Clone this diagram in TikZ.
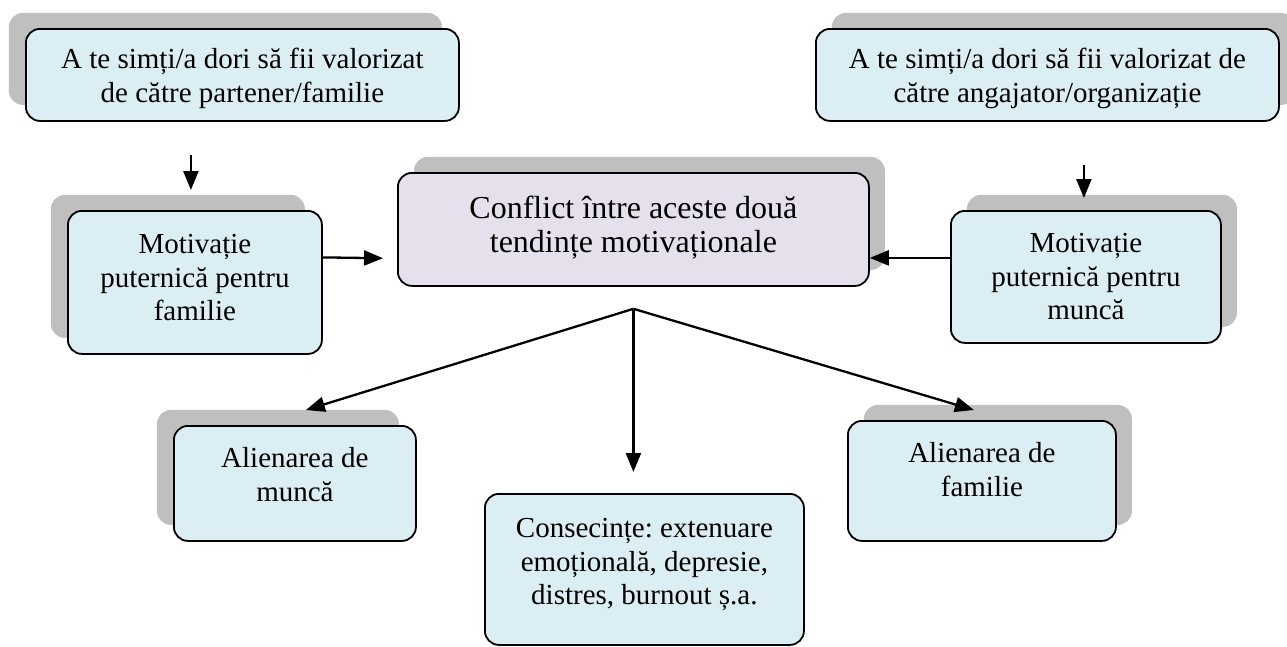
\documentclass[tikz,border=0pt]{standalone}
\usepackage{fontspec}
\setmainfont{Liberation Serif}
\usepackage{tikz}
\usetikzlibrary{arrows.meta}
\usetikzlibrary{shadows}
\usetikzlibrary{calc}
\frenchspacing

\definecolor{boxblue}{HTML}{DAEEF3}
\definecolor{boxlilac}{HTML}{E5E0EC}
\definecolor{shadowgray}{HTML}{BFBFBF}

\begin{document}
\begin{tikzpicture}[x=1pt, y=-1pt,
	box/.style={draw, line width=1.8pt, rounded corners=14pt, fill=boxblue, anchor=north west,
		align=flush center, inner xsep=4pt, inner ysep=0pt, font=\fontsize{29}{33.4}\selectfont},
	lshadow/.style={drop shadow={shadow xshift=-17pt, shadow yshift=16pt, fill=shadowgray, opacity=1}},
	rshadow/.style={drop shadow={shadow xshift=16pt, shadow yshift=16pt, fill=shadowgray, opacity=1}},
	arr/.style={line width=2.3pt, -{Triangle[length=19pt, width=15pt]}}]
\useasboundingbox (0,0) rectangle (1287,646);

% top row
\node[box, lshadow, text width=425pt, text height=40pt, text depth=52pt] (valfam) at (25,28)
	{A te simți/a dori să fii valorizat\\de către partener/familie};
\node[box, rshadow, text width=455pt, text height=40pt, text depth=52pt] (valorg) at (815,28)
	{A te simți/a dori să fii valorizat de\\către angajator/organizație};

% middle row
\node[box, lshadow, text width=246pt, text height=43pt, text depth=100pt] (motfam) at (67,210)
	{Motivație\\puternică pentru\\familie};
\node[box, rshadow, text width=262pt, text height=42pt, text depth=90pt] (motmun) at (950,210)
	{Motivație\\puternică pentru\\muncă};
\node[box, rshadow, fill=boxlilac, text width=463pt, text height=46pt, text depth=67pt,
	font=\fontsize{32}{34}\selectfont] (conflict) at (397,172)
	{Conflict între aceste două\\tendințe motivaționale};

% bottom row
\node[box, lshadow, text width=234pt, text height=42pt, text depth=73pt] (alimun) at (173,425)
	{Alienarea de\\muncă};
\node[box, rshadow, text width=260pt, text height=42pt, text depth=78pt] (alifam) at (847,420)
	{Alienarea de\\familie};
\node[box, text width=311pt, text height=44pt, text depth=107pt] (cons) at (484,493)
	{Consecințe: extenuare\\emoțională, depresie,\\distres, burnout ș.a.};

\draw[arr, shorten <=33pt, shorten >=20pt] ([xshift=-4pt]valfam.south -| motfam.north) -- ([xshift=-4pt]motfam.north);
\draw[arr, shorten <=43pt, shorten >=12pt] ([xshift=-2pt]valorg.south -| motmun.north) -- ([xshift=-2pt]motmun.north);
\draw[arr, shorten >=14pt] ([yshift=25pt]motfam.east) -- ([yshift=-29pt]conflict.west);
\draw[arr] ([yshift=19pt]motmun.west) -- ([yshift=-28.5pt]conflict.east);

\coordinate (fork) at ([yshift=-22pt]conflict.south);
\draw[arr] (fork) -- ([xshift=11pt, yshift=15pt]alimun.north);
\draw[arr, shorten >=21pt] (fork) -- (fork |- cons.north);
\draw[arr] (fork) -- ([xshift=-8pt, yshift=10pt]alifam.north);
\end{tikzpicture}
\end{document}
